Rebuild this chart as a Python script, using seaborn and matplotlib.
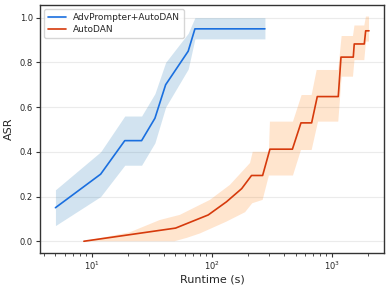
import numpy as np
import pandas as pd
import matplotlib
matplotlib.use("Agg")
import matplotlib.pyplot as plt
import seaborn as sns

# ---- data ----
adv_runtime = [5.0, 11.9, 18.9, 26.1, 33.7, 41.4, 63.8, 72.6, 278]
adv_asr = [0.15, 0.30, 0.45, 0.45, 0.55, 0.70, 0.85, 0.95, 0.95]
adv_lo = [0.07, 0.20, 0.34, 0.34, 0.44, 0.60, 0.77, 0.905, 0.905]
adv_hi = [0.23, 0.40, 0.56, 0.56, 0.66, 0.80, 0.93, 1.00, 1.00]

dan_runtime = [8.63, 50.1, 93.7, 133, 178, 215, 266, 306, 471, 555, 681,
               759, 1135, 1196, 1514, 1542, 1870, 1920, 2047]
dan_asr = [0.0, 1/17, 2/17, 3/17, 4/17, 5/17, 5/17, 7/17, 7/17, 9/17, 9/17,
           11/17, 11/17, 14/17, 14/17, 15/17, 15/17, 16/17, 16/17]

# band outline of AutoDAN (upper edge left->right, lower edge left->right)
dan_up_x = [8.63, 20.8, 37.0, 54.4, 96.8, 142, 209, 220, 300, 306, 476, 562,
            681, 750, 1135, 1211, 1505, 1549, 1870, 1931, 2047]
dan_up_y = [0.0, 0.04, 0.095, 0.118, 0.185, 0.252, 0.35, 0.40, 0.40, 0.535,
            0.535, 0.654, 0.654, 0.766, 0.766, 0.918, 0.918, 0.965, 0.965,
            1.005, 1.005]
dan_lo_x = [8.63, 49.0, 62.0, 80.0, 133, 190, 218, 266, 300, 476, 555, 681,
            770, 1135, 1211, 1505, 1549, 1870, 1931, 2047]
dan_lo_y = [0.0, 0.0, 0.015, 0.035, 0.088, 0.13, 0.17, 0.185, 0.294, 0.294,
            0.408, 0.408, 0.535, 0.535, 0.736, 0.736, 0.81, 0.81, 0.893, 0.893]

labels = ["AdvPrompter+AutoDAN", "AutoDAN"]
blue = "#1a6fdf"
red = "#d63a0c"

sns.set_style("ticks")
plt.rcParams["font.family"] = ["DejaVu Sans"]

fig = plt.figure(figsize=(3.91, 2.89), dpi=100)
ax = fig.add_axes([0.102, 0.125, 0.880, 0.858])

df_adv = pd.DataFrame({"runtime": adv_runtime, "asr": adv_asr})
df_dan = pd.DataFrame({"runtime": dan_runtime, "asr": dan_asr})

ax.fill_between(adv_runtime, adv_lo, adv_hi, color="#1f77b4", alpha=0.2,
                linewidth=0)
band_x = dan_up_x + dan_lo_x[::-1]
band_y = dan_up_y + dan_lo_y[::-1]
ax.fill(band_x, band_y, color="#ff7f0e", alpha=0.2, linewidth=0)

sns.lineplot(data=df_adv, x="runtime", y="asr", ax=ax, color=blue,
             linewidth=1.2, label=labels[0], estimator=None, sort=False)
sns.lineplot(data=df_dan, x="runtime", y="asr", ax=ax, color=red,
             linewidth=1.2, label=labels[1], estimator=None, sort=False)

ax.set_xscale("log")
ax.set_xlim(3.71, 2727)
ax.set_ylim(-0.052, 1.057)
ax.set_yticks([0.0, 0.2, 0.4, 0.6, 0.8, 1.0])
ax.grid(axis="y", color="#ebebeb", linewidth=0.8)
ax.set_axisbelow(True)

ax.set_xlabel("Runtime (s)", fontsize=8, labelpad=2)
ax.set_ylabel("ASR", fontsize=8, labelpad=4)
ax.tick_params(axis="both", which="major", labelsize=6, length=3,
               width=0.8, color="#333333", pad=2)
ax.tick_params(axis="x", which="minor", length=1.8, width=0.6,
               color="#333333")
for s in ax.spines.values():
    s.set_color("#333333")
    s.set_linewidth(1.0)

leg = ax.legend(loc="upper left", fontsize=6.5, frameon=True,
                borderpad=0.4, handlelength=2.0, labelspacing=0.35)
leg.get_frame().set_edgecolor("#cccccc")

fig.savefig("out.png", dpi=100)
